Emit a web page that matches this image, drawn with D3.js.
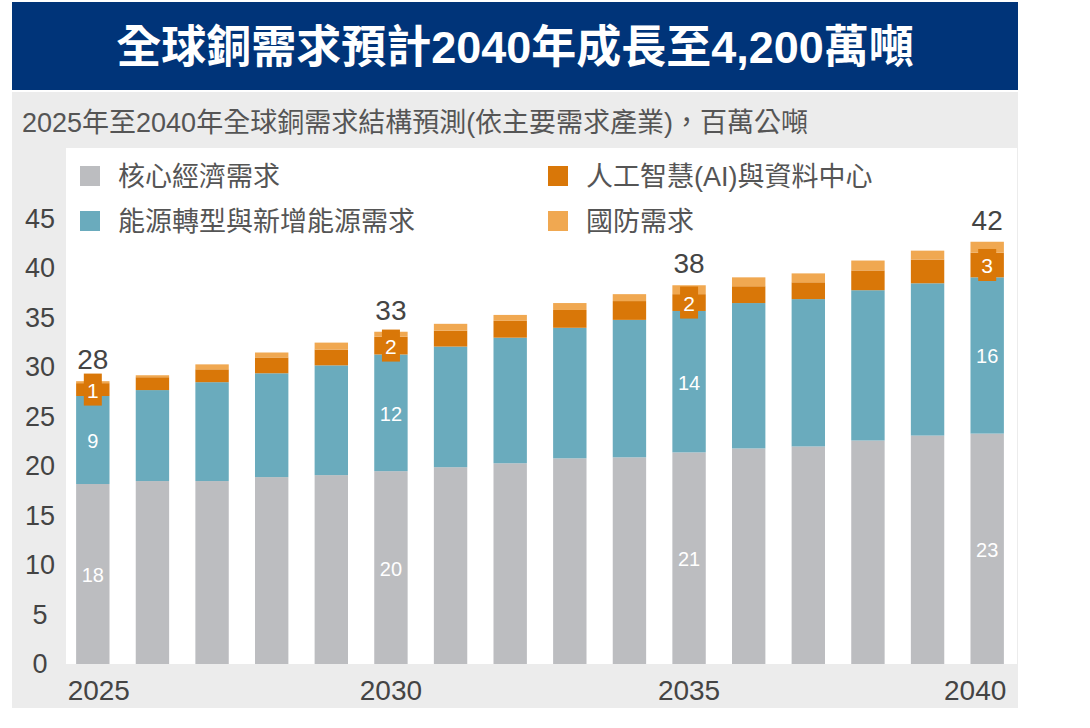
<!DOCTYPE html>
<html>
<head>
<meta charset="utf-8">
<script src="https://cdn.jsdelivr.net/npm/d3@7"></script>
<style>
  body { margin: 0; background: #fff; }
  svg text { font-family: "Liberation Sans", "Noto Sans CJK TC", sans-serif; }
</style>
</head>
<body>
<div id="chart"></div>
<script>
const years = d3.range(2025, 2041);
const core    = [18.2, 18.5, 18.5, 18.9, 19.1, 19.5, 19.9, 20.3, 20.8, 20.9, 21.4, 21.8, 22.0, 22.6, 23.1, 23.3];
const energy  = [8.9, 9.2, 10.0, 10.5, 11.1, 11.8, 12.2, 12.7, 13.2, 13.9, 14.3, 14.7, 14.9, 15.2, 15.4, 15.8];
const ai      = [1.3, 1.3, 1.3, 1.6, 1.6, 1.8, 1.6, 1.7, 1.8, 1.9, 1.7, 1.7, 1.7, 2.0, 2.4, 2.5];
const defense = [0.2, 0.2, 0.5, 0.5, 0.7, 0.5, 0.7, 0.6, 0.7, 0.7, 0.9, 0.9, 0.9, 1.0, 0.9, 1.1];
const keys = ["core", "energy", "ai", "defense"];
const names = ["核心經濟需求", "能源轉型與新增能源需求", "人工智慧(AI)與資料中心", "國防需求"];
const colors = ["#bcbdc0", "#6aabbd", "#d97708", "#f0a851"];
const labelYears = [2025, 2030, 2035, 2040];
const coreLabels = ["18", "20", "21", "23"];
const energyLabels = ["9", "12", "14", "16"];
const aiLabels = ["1", "2", "2", "3"];
const totalLabels = ["28", "33", "38", "42"];
const yTicks = [0, 5, 10, 15, 20, 25, 30, 35, 40, 45];

const W = 1090, H = 728;
const svg = d3.select("#chart").append("svg").attr("width", W).attr("height", H);

// frame
svg.append("rect").attr("x", 12).attr("y", 92).attr("width", 1006).attr("height", 616).attr("fill", "#ececec");
svg.append("rect").attr("x", 12).attr("y", 2).attr("width", 1006).attr("height", 88).attr("fill", "#003479");
svg.append("text").attr("x", 515).attr("y", 63).attr("text-anchor", "middle")
  .attr("fill", "#fff").attr("font-size", 45).attr("font-weight", "bold")
  .text("全球銅需求預計2040年成長至4,200萬噸");
svg.append("text").attr("x", 22).attr("y", 132).attr("fill", "#555").attr("font-size", 27)
  .text("2025年至2040年全球銅需求結構預測(依主要需求產業)，百萬公噸");
svg.append("rect").attr("x", 66).attr("y", 148).attr("width", 951).attr("height", 516).attr("fill", "#fff");

const x = d3.scaleBand().domain(years).range([63, 1017]).paddingInner(0.44).paddingOuter(0.22);
const y = d3.scaleLinear().domain([0, 45]).range([664, 219]);

const rows = years.map((yr, i) => ({ year: yr, core: core[i], energy: energy[i], ai: ai[i], defense: defense[i] }));
const stacked = d3.stack().keys(keys)(rows);

svg.append("g").selectAll("g").data(stacked).join("g")
  .attr("fill", (d, i) => colors[i])
  .selectAll("rect").data(d => d).join("rect")
  .attr("x", d => x(d.data.year))
  .attr("width", x.bandwidth())
  .attr("y", d => y(d[1]))
  .attr("height", d => y(d[0]) - y(d[1]));

// y axis labels
svg.append("g").selectAll("text").data(yTicks).join("text")
  .attr("x", 40).attr("y", d => y(d) + 9).attr("text-anchor", "middle")
  .attr("fill", "#444").attr("font-size", 27).text(d => d);

// x axis labels
svg.append("g").selectAll("text").data(labelYears).join("text")
  .attr("x", d => x(d) + x.bandwidth() / 2 + (d === 2025 ? 6 : d === 2040 ? -12 : 0))
  .attr("y", 700).attr("text-anchor", "middle")
  .attr("fill", "#444").attr("font-size", 28).text(d => d);

// value labels
labelYears.forEach((yr, j) => {
  const i = years.indexOf(yr);
  const cx = x(yr) + x.bandwidth() / 2;
  const c = core[i], e = energy[i], a = ai[i], t = c + e + a + defense[i];
  svg.append("text").attr("x", cx).attr("y", y(c / 2) + 8).attr("text-anchor", "middle")
    .attr("fill", "#fff").attr("font-size", 20).text(coreLabels[j]);
  svg.append("text").attr("x", cx).attr("y", y(c + e / 2) + 8).attr("text-anchor", "middle")
    .attr("fill", "#fff").attr("font-size", 20).text(energyLabels[j]);
  const am = y(c + e + a / 2);
  svg.append("rect").attr("x", cx - 9).attr("y", am - 16).attr("width", 18).attr("height", 32)
    .attr("fill", colors[2]);
  svg.append("text").attr("x", cx).attr("y", am + 8).attr("text-anchor", "middle")
    .attr("fill", "#fff").attr("font-size", 21).text(aiLabels[j]);
  svg.append("text").attr("x", cx).attr("y", y(t) - 12).attr("text-anchor", "middle")
    .attr("fill", "#444").attr("font-size", 28).text(totalLabels[j]);
});

// legend
const legend = [
  { k: 0, x: 80, y: 176 }, { k: 1, x: 80, y: 221 },
  { k: 2, x: 548, y: 176 }, { k: 3, x: 548, y: 221 }
];
const lg = svg.append("g").selectAll("g").data(legend).join("g")
  .attr("transform", d => `translate(${d.x},${d.y})`);
lg.append("rect").attr("x", 0).attr("y", -10).attr("width", 20).attr("height", 20)
  .attr("fill", d => colors[d.k]);
lg.append("text").attr("x", 38).attr("y", 10).attr("fill", "#555").attr("font-size", 27)
  .text(d => names[d.k]);
</script>
</body>
</html>
